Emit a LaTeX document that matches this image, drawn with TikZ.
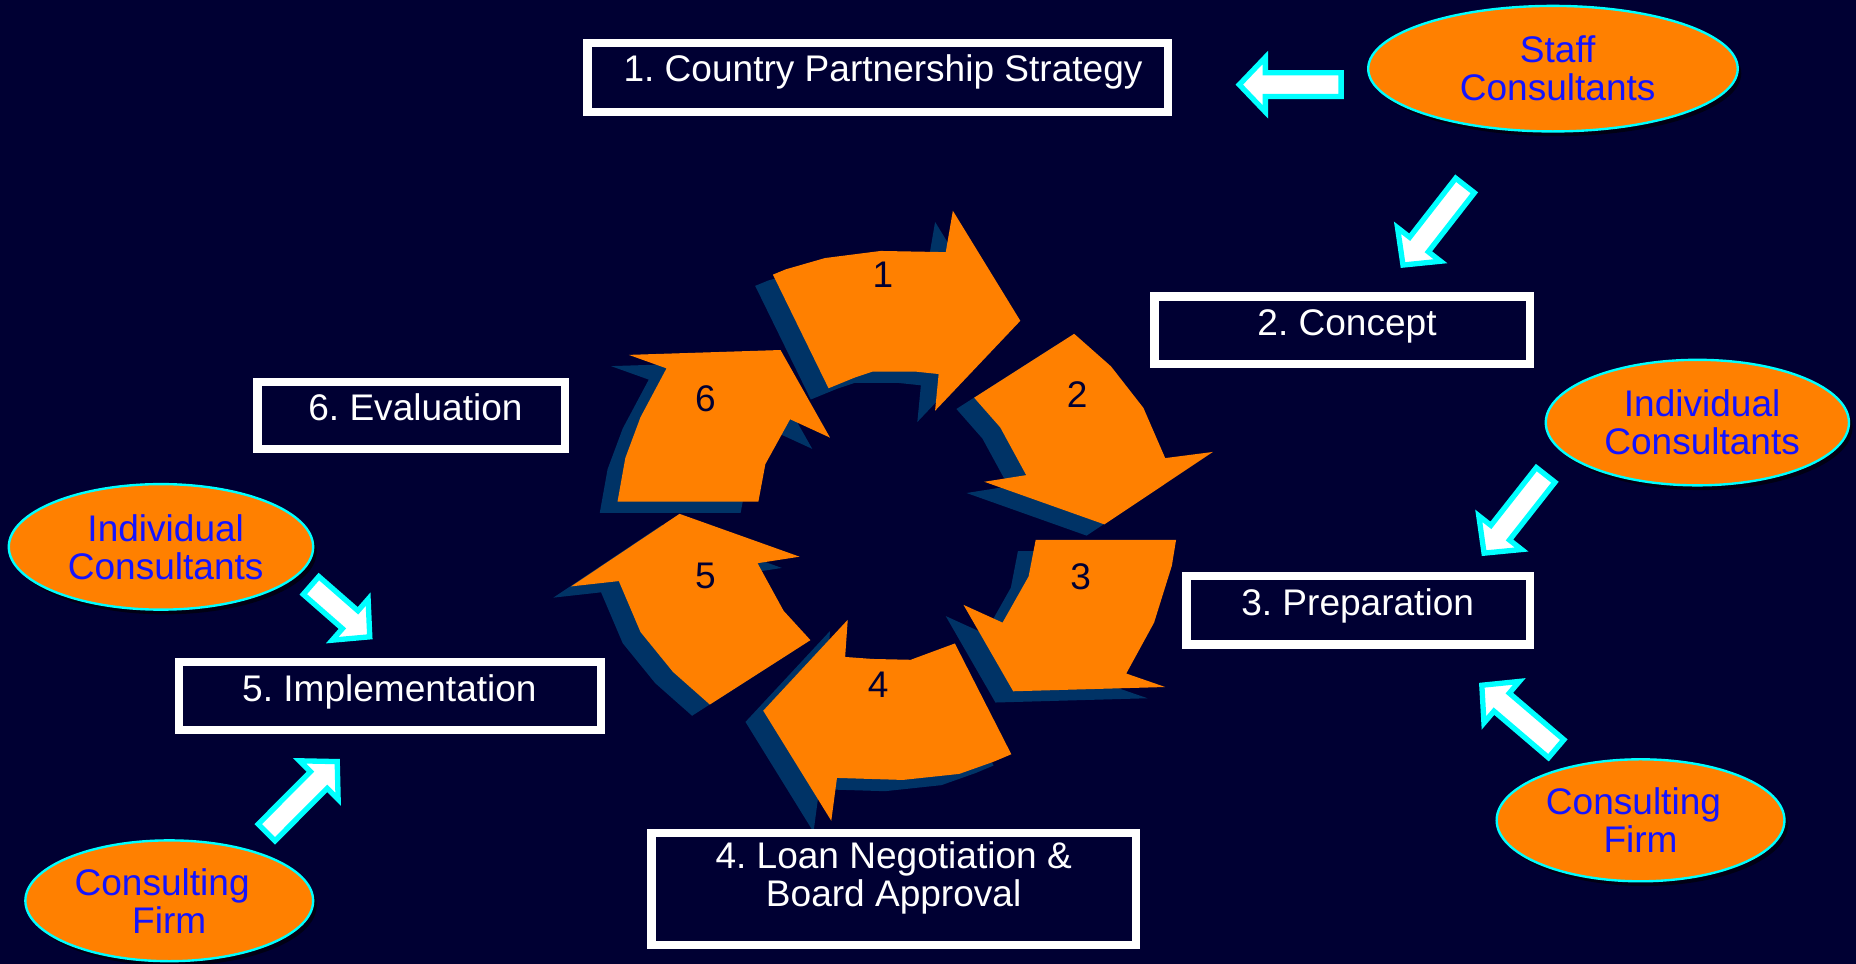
\documentclass[tikz,border=0pt]{standalone}
\usepackage{fontspec}
\setmainfont{Liberation Sans}
\frenchspacing
\usetikzlibrary{shapes.geometric,calc,shadows}
\definecolor{bgc}{RGB}{0,0,51}
\definecolor{orangec}{RGB}{255,128,0}
\definecolor{cyanc}{RGB}{0,255,255}
\definecolor{bluec}{RGB}{20,20,255}
\definecolor{shadowc}{RGB}{0,51,102}
\definecolor{navyc}{RGB}{0,0,51}
\newcommand\cycpA{(653,232) -- (664,227.5) -- (697,218) -- (744,212) -- (799,213) -- (805,178) -- (862,271) -- (790,347) -- (793,316) -- (774,314) -- (737,314) -- (722,319) -- (700,328) -- cycle}
\newcommand\cycpB{(907.5,282) -- (938.6,309.5) -- (966,344.6) -- (984.4,387) -- (1024.7,381.8) -- (933,443) -- (831.6,407) -- (867,401.4) -- (845,361) -- (823,336) -- cycle}
\newcommand\cycpC{(875,456) -- (993.6,456) -- (990,478) -- (975,526) -- (951.5,569) -- (984.4,580.4) -- (856,584) -- (814,511) -- (847,526) -- (869,487) -- cycle}
\newcommand\cycpD{(806.7,543.6) -- (854.4,637.2) -- (839.7,643.4) -- (810.4,653.8) -- (762.7,658.9) -- (707.1,657.2) -- (702.3,693.4) -- (644.8,600.4) -- (716.2,523.6) -- (714,555) -- (737.1,556.7) -- (769.4,557.4) -- cycle}
\newcommand\cycpE{(684.7,540.8) -- (599.7,595.2) -- (568.6,567.7) -- (541.1,533.9) -- (522.8,490.9) -- (482.5,495.4) -- (574.1,434.1) -- (675.5,470.3) -- (640,475.8) -- (662,516) -- cycle}
\newcommand\cycpF{(640.7,423.8) -- (521.7,423.8) -- (528.3,386.9) -- (541.1,352.5) -- (563.1,311.2) -- (531.2,299.8) -- (659.4,295.7) -- (701.2,369.7) -- (667.5,354.2) -- (646.6,392.1) -- cycle}
\newcommand\blockarrow[2]{%
  \coordinate (ba-base) at ($(#2)!0.22cm!(#1)$);
  \draw[flowarrow] ($(#1)!0.10cm!90:(#2)$) -- ($(ba-base)!0.10cm!90:(#2)$) -- ($(ba-base)!0.23cm!90:(#2)$) -- (#2) -- ($(ba-base)!0.23cm!-90:(#2)$) -- ($(ba-base)!0.10cm!-90:(#2)$) -- ($(#1)!0.10cm!-90:(#2)$) -- cycle;}
\tikzset{
  stagebox/.style={draw=white, line width=0.07cm, rectangle, inner sep=0pt},
  stagetext/.style={text=white, font=\fontsize{8.9}{9.1}\selectfont, inner sep=0pt, text height=6.4pt, text depth=0pt},
  stagetext2/.style={text=white, font=\fontsize{8.9}{9.1}\selectfont, inner sep=0pt, align=center},
  cons/.style={ellipse, fill=orangec, draw=cyanc, line width=0.02cm, inner sep=0pt,
    text=bluec, align=center, font=\fontsize{8.9}{9.1}\selectfont,
    minimum width=#1, drop shadow={shadow xshift=0.03cm, shadow yshift=-0.04cm, fill=black, opacity=0.6}},
  cycshadow/.style={fill=shadowc},
  cycarrow/.style={fill=orangec},
  cyclabel/.style={text=navyc, font=\fontsize{8.9}{9.1}\selectfont, inner sep=0pt, text height=6.4pt, text depth=0pt},
  flowarrow/.style={fill=white, draw=cyanc, line width=0.045cm, line join=miter},
}
\begin{document}
\begin{tikzpicture}[x=0.01cm, y=-0.01cm]
\useasboundingbox (0,0) rectangle (1568,814);
\fill[bgc] (0,0) rectangle (1568,814);

% cycle arrows: shadows then orange
\foreach \p in {\cycpA,\cycpB,\cycpC,\cycpD,\cycpE,\cycpF}{
  \fill[cycshadow, shift={(-15,9.5)}] \p;
}
\foreach \p in {\cycpA,\cycpB,\cycpC,\cycpD,\cycpE,\cycpF}{
  \fill[cycarrow] \p;
}
\node[cyclabel] (c1) at (746,232) {1};
\node[cyclabel] (c2) at (910,333) {2};
\node[cyclabel] (c3) at (913,487) {3};
\node[cyclabel] (c4) at (742,578) {4};
\node[cyclabel] (c5) at (596,486) {5};
\node[cyclabel] (c6) at (596,336) {6};

% stage boxes
\node[stagebox, minimum width=4.90cm, minimum height=0.58cm] (b1) at (741.5,65.5) {};
\node[stagebox, minimum width=3.17cm, minimum height=0.57cm] (b2) at (1134,279) {};
\node[stagebox, minimum width=2.90cm, minimum height=0.58cm] (b3) at (1147.5,515.5) {};
\node[stagebox, minimum width=4.09cm, minimum height=0.95cm] (b4) at (755,751) {};
\node[stagebox, minimum width=3.56cm, minimum height=0.57cm] (b5) at (329.5,588) {};
\node[stagebox, minimum width=2.60cm, minimum height=0.57cm] (b6) at (347.5,351) {};
\node[stagetext] (t1) at (746,58) {1. Country Partnership Strategy};
\node[stagetext] (t2) at (1138,272) {2. Concept};
\node[stagetext] (t3) at (1147,509) {3. Preparation};
\node[stagetext2] (t4) at (755,742) {4. Loan Negotiation \&\\Board Approval};
\node[stagetext] (t5) at (329,581) {5. Implementation};
\node[stagetext] (t6) at (351,344) {6. Evaluation};

% consultant ellipses
\node[cons=3.12cm, minimum height=1.06cm] (e1) at (1312,58) {\hspace*{0.08cm}Staff\\\hspace*{0.08cm}Consultants};
\node[cons=2.56cm, minimum height=1.06cm] (e2) at (1434,357) {\hspace*{0.08cm}Individual\\\hspace*{0.08cm}Consultants};
\node[cons=2.43cm, minimum height=1.03cm] (e3) at (1386,693) {Consulting\hspace*{0.12cm}\\Firm};
\node[cons=2.57cm, minimum height=1.06cm] (e4) at (136,462) {\hspace*{0.08cm}Individual\\\hspace*{0.08cm}Consultants};
\node[cons=2.43cm, minimum height=1.02cm] (e5) at (143,761) {Consulting\hspace*{0.12cm}\\Firm};

% flow arrows (tail, tip)
\coordinate (a1t) at (1133,71.5);   \coordinate (a1h) at (1047,71.5);
\coordinate (a2t) at (1237.7,156.7); \coordinate (a2h) at (1185.3,223.9);
\coordinate (a3t) at (1305.8,401.2); \coordinate (a3h) at (1253.8,467.3);
\coordinate (a4t) at (1314.7,632.5); \coordinate (a4h) at (1251.9,578.9);
\coordinate (a5t) at (262.8,494.6);  \coordinate (a5h) at (312.4,538.0);
\coordinate (a6t) at (225.2,703.3);  \coordinate (a6h) at (284.9,643.4);
\blockarrow{a1t}{a1h}
\blockarrow{a2t}{a2h}
\blockarrow{a3t}{a3h}
\blockarrow{a4t}{a4h}
\blockarrow{a5t}{a5h}
\blockarrow{a6t}{a6h}
\end{tikzpicture}
\end{document}
